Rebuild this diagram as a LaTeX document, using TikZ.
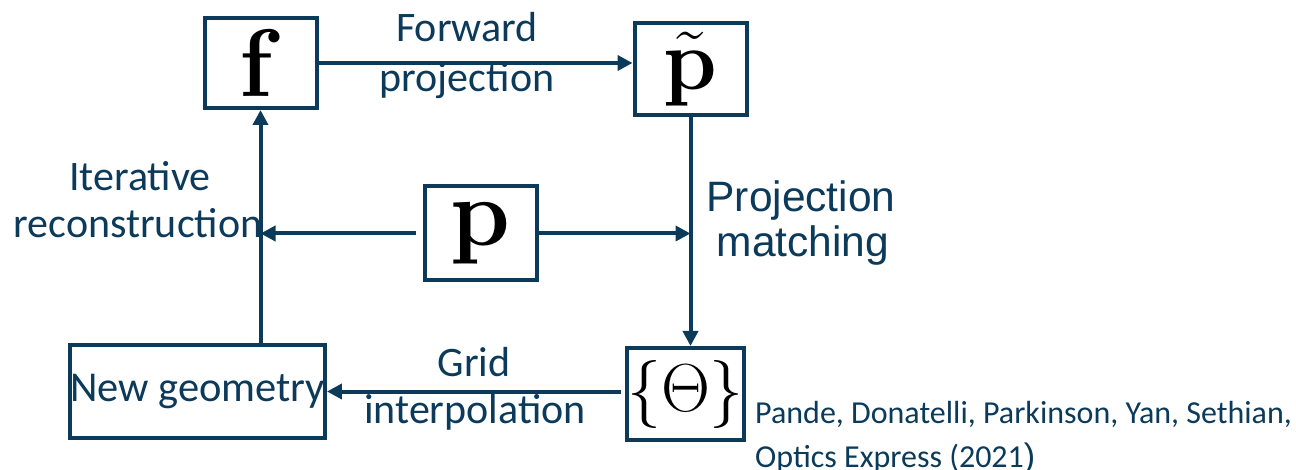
\RequirePackage{fix-cm}
\documentclass[tikz,border=0pt]{standalone}
\usepackage[no-math]{fontspec}
\setmainfont{Carlito}
\newfontfamily\arialf{Liberation Sans}
\usetikzlibrary{arrows.meta}
\definecolor{dblue}{RGB}{12,58,90}
\begin{document}
\begin{tikzpicture}[x=1pt,y=-1pt,
  box/.style={draw=dblue, line width=4pt, inner sep=0pt, fill=white},
  arr/.style={draw=dblue, line width=4pt, -{Triangle[length=15pt,width=15pt]}},
  lab/.style={text=dblue, font=\fontsize{42}{50}\selectfont, inner sep=0pt, anchor=base},
  labA/.style={text=dblue, font=\arialf\fontsize{42.5}{50}\selectfont, inner sep=0pt, anchor=base},
  cite/.style={text=dblue, font=\fontsize{32}{40}\selectfont, inner sep=0pt, anchor=base west},
]
\useasboundingbox (0,0) rectangle (1296,470);
% boxes
\node[box, minimum width=112pt, minimum height=90pt] (f) at (260.5,63) {\fontsize{96}{96}\selectfont$\mathbf{f}$};
\node[box, minimum width=112pt, minimum height=92pt] (pt) at (690.5,69.5) {\fontsize{86}{86}\selectfont$\tilde{\mathbf{p}}$};
\node[box, minimum width=112pt, minimum height=94pt] (p) at (480.5,233.5) {\fontsize{96}{96}\selectfont$\mathbf{p}$};
\node[box, minimum width=112pt, minimum height=92pt] (th) at (685.5,394) {\fontsize{68}{68}\selectfont$\{\Theta\}$};
\node[box, minimum width=248pt, minimum height=92pt, text=dblue, font=\fontsize{42.5}{50}\selectfont] (ng) at (197.5,391.5) {New geometry};
% connectors
\draw[arr] (f.east) -- (f.east -| pt.west);
\draw[arr] (pt.south) -- (pt.south |- th.north);
\draw[arr] ([xshift=-7pt]p.west) -- (p.west -| f.south);
\draw[arr] (p.east) -- (p.east -| pt.south);
\draw[arr] ([xshift=-4pt]th.west |- ng.east) -- (ng.east);
\draw[arr] (f.south |- ng.north) -- (f.south);
% labels
\node[lab] (l1) at (467,42) {Forward};
\node[lab] (l2) at (467,92) {projection};
\node[lab] (l3) at (140,191) {Iterative};
\node[lab] (l4) at (138,238) {reconstruction};
\node[labA] (l5) at (801,212) {Projection};
\node[labA] (l6) at (803,257) {matching};
\node[lab] (l7) at (474,377) {Grid};
\node[lab] (l8) at (475,423) {interpolation};
\node[cite] (c1) at (755,423) {Pande, Donatelli, Parkinson, Yan, Sethian,};
\node[cite] (c2) at (755,467) {Optics Express (2021{\arialf\fontsize{34}{40}\selectfont )}};
\end{tikzpicture}
\end{document}
